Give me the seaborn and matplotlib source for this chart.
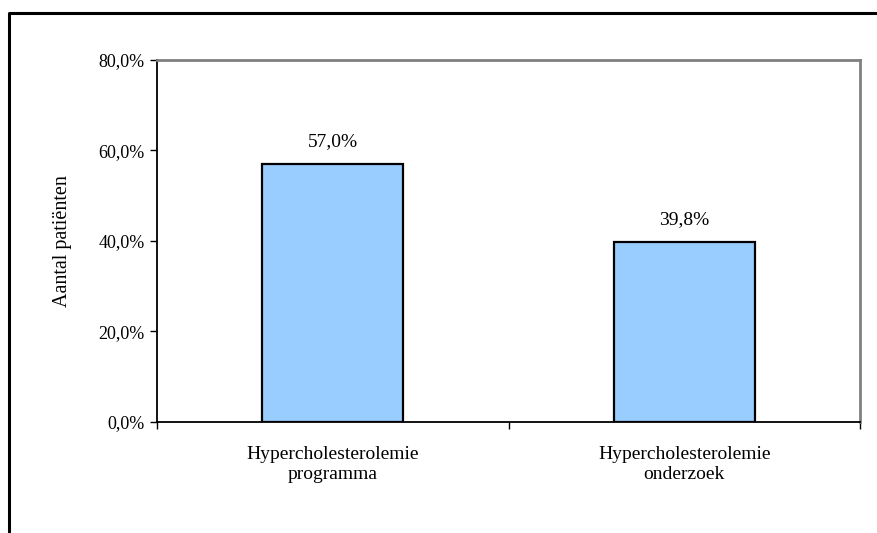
import matplotlib
matplotlib.use("Agg")
import matplotlib.pyplot as plt
from matplotlib.lines import Line2D
from matplotlib.ticker import FuncFormatter, FixedLocator
import seaborn as sns
import pandas as pd

categories = ["Hypercholesterolemie\nprogramma", "Hypercholesterolemie\nonderzoek"]
percentages = [57.0, 39.8]
y_ticks = [0, 20, 40, 60, 80]
y_label = "Aantal patiënten"

sns.set_theme(style="white")
plt.rcParams["font.family"] = ["Liberation Serif", "DejaVu Serif"]

W, H, DPI = 877, 533, 100
fig = plt.figure(figsize=(W / DPI, H / DPI), dpi=DPI)
left, right, top, bottom = 157, 860, 60, 421.7
ax = fig.add_axes([left / W, 1 - bottom / H, (right - left) / W, (bottom - top) / H])

df = pd.DataFrame({"cat": categories, "pct": percentages})
sns.barplot(data=df, x="cat", y="pct", ax=ax, color="#99CCFF", saturation=1,
            width=0.4, edgecolor="black", linewidth=1.6)

ax.set_xlim(-0.5, 1.5)
ax.set_ylim(0, 80)
ax.yaxis.set_major_locator(FixedLocator(y_ticks))
ax.yaxis.set_major_formatter(FuncFormatter(lambda v, _: f"{v:.1f}%".replace(".", ",")))

# category ticks sit on the boundaries between groups
ax.set_xticks([-0.5, 0.5, 1.5])
ax.set_xticklabels([])
ax.tick_params(axis="x", direction="out", length=5, width=1, color="black", bottom=True)
ax.tick_params(axis="y", direction="out", length=5, width=1, color="black", left=True,
               labelsize=13, pad=4, labelcolor="black")
for i, c in enumerate(categories):
    ax.text(i, -5.4, c, ha="center", va="top", fontsize=14, linespacing=1.25,
            transform=ax.transData, color="black")

ax.set_xlabel("")
ax.set_ylabel(y_label, fontsize=14.5, color="black", labelpad=19)

for bar, v in zip(ax.patches, percentages):
    ax.annotate(f"{v:.1f}%".replace(".", ","),
                (bar.get_x() + bar.get_width() / 2, v),
                xytext=(0, 10), textcoords="offset points",
                ha="center", va="bottom", fontsize=14, color="black")

for side in ("left", "bottom"):
    ax.spines[side].set_color("black")
    ax.spines[side].set_linewidth(1.3)
for side in ("top", "right"):
    ax.spines[side].set_color("#808080")
    ax.spines[side].set_linewidth(2)
    ax.spines[side].set_visible(True)

# outer chart border (left and top edges)
fig.add_artist(Line2D([9 / W, 9 / W, 1.0], [0.0, 1 - 13 / H, 1 - 13 / H],
                      transform=fig.transFigure, color="black", linewidth=2.2))

fig.savefig("out.png", dpi=DPI, facecolor="white")
